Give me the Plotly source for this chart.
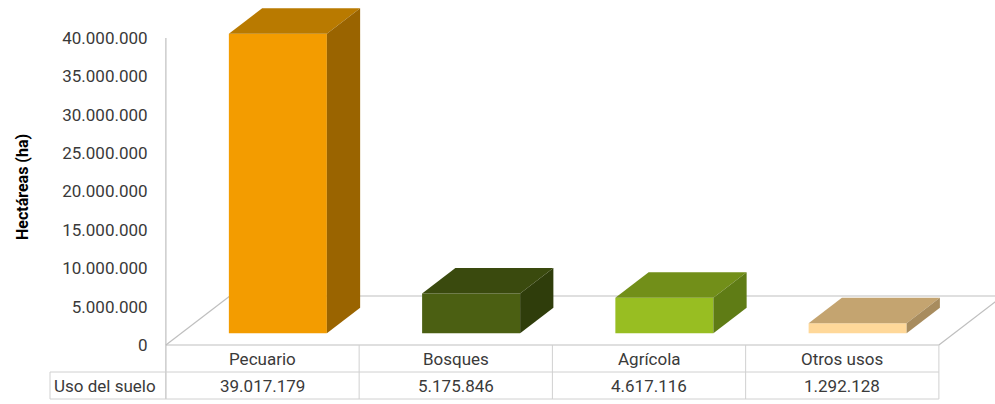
import plotly.graph_objects as go

# ---------------- data ----------------
categories = ["Pecuario", "Bosques", "Agrícola", "Otros usos"]
values = [39017179, 5175846, 4617116, 1292128]
row_label = "Uso del suelo"
y_title = "Hectáreas (ha)"
y_ticks = [0, 5000000, 10000000, 15000000, 20000000, 25000000, 30000000, 35000000, 40000000]

front_colors = ["#F39C00", "#4B5F12", "#98BE22", "#FFD899"]
top_colors = ["#B97A00", "#3A4A0E", "#728F19", "#C4A470"]
side_colors = ["#9A6400", "#2F3D0B", "#5F7C15", "#A88C5E"]

# ---------------- layout geometry (pixels) ----------------
W, H = 995, 404
X0_PX = 262.5        # centre of first category column
COL_PX = 193.25      # width of one category column
Y0_PX = 345.0        # pixel row of value 0
PX_PER_VAL = 307.0 / 40000000  # pixels per hectare
FLOOR_DX_PX, FLOOR_DY_PX = 64.0, 49.0
BAR_FRONT, BAR_BACK = 0.24, 0.76
BAR_W = 98.0 / COL_PX

def xval(px):
    return (px - X0_PX) / COL_PX

def yval(py):
    return (Y0_PX - py) / PX_PER_VAL

DX = FLOOR_DX_PX / COL_PX
DY = FLOOR_DY_PX / PX_PER_VAL
n = len(categories)
left, right = -0.5, n - 0.5

fig = go.Figure()

# front faces as bars
xs = [i + BAR_FRONT * DX for i in range(n)]
base = BAR_FRONT * DY
fig.add_trace(go.Bar(
    x=xs, y=values, base=[base] * n, width=BAR_W,
    marker=dict(color=front_colors, line=dict(width=0)),
    hoverinfo="skip", showlegend=False,
))

# top and side faces
ddx = (BAR_BACK - BAR_FRONT) * DX
ddy = (BAR_BACK - BAR_FRONT) * DY
hw = BAR_W / 2
for i, v in enumerate(values):
    c = xs[i]
    t = base + v
    fig.add_trace(go.Scatter(
        x=[c - hw, c + hw, c + hw + ddx, c - hw + ddx, c - hw],
        y=[t, t, t + ddy, t + ddy, t],
        fill="toself", fillcolor=top_colors[i], mode="lines",
        line=dict(width=0, color=top_colors[i]), hoverinfo="skip", showlegend=False,
    ))
    fig.add_trace(go.Scatter(
        x=[c + hw, c + hw, c + hw + ddx, c + hw + ddx, c + hw],
        y=[base, t, t + ddy, base + ddy, base],
        fill="toself", fillcolor=side_colors[i], mode="lines",
        line=dict(width=0, color=side_colors[i]), hoverinfo="skip", showlegend=False,
    ))

# floor / axis / table lines (below traces)
grey = "#BFBFBF"
tgrey = "#D0D0D0"
shapes = []
def seg(x0, y0, x1, y1, color=grey, w=1.2):
    shapes.append(dict(type="line", xref="x", yref="y", x0=x0, y0=y0, x1=x1, y1=y1,
                       line=dict(color=color, width=w), layer="below"))

# floor
seg(left, 0, right, 0)
seg(left, 0, left + DX, DY)
seg(right, 0, right + DX, DY)
seg(left + DX, DY, right + DX, DY)
# vertical axis line (down through table)
seg(left, y_ticks[-1], left, yval(399))
# table
row1_bot = yval(372)
row2_bot = yval(399)
hdr_left = xval(50)
seg(hdr_left, row1_bot, right, row1_bot, tgrey, 1)
seg(hdr_left, row2_bot, right, row2_bot, tgrey, 1)
seg(hdr_left, row1_bot, hdr_left, row2_bot, tgrey, 1)
for k in range(1, n + 1):
    seg(left + k, 0, left + k, row2_bot, tgrey, 1)

font_fam = "Roboto"
txt_col = "#3A3A3A"
fs = 17
annotations = []
for i, (cat, v) in enumerate(zip(categories, values)):
    annotations.append(dict(x=i, y=yval(358.5), xref="x", yref="y", text=cat,
                            showarrow=False, font=dict(size=fs, color=txt_col)))
    annotations.append(dict(x=i, y=yval(386), xref="x", yref="y",
                            text=f"{v:,}".replace(",", "."),
                            showarrow=False, font=dict(size=fs, color=txt_col)))
annotations.append(dict(x=xval(52), y=yval(386), xref="x", yref="y", text=row_label,
                        xanchor="left", showarrow=False, font=dict(size=fs, color=txt_col)))
annotations.append(dict(x=22 / W, y=1 - 187 / H, xref="paper", yref="paper", text=f"<b>{y_title}</b>",
                        xanchor="center", yanchor="middle",
                        textangle=-90, showarrow=False, font=dict(size=16, color="#000000")))

fig.update_layout(
    width=W, height=H, autosize=False,
    margin=dict(l=0, r=0, t=0, b=0, pad=0),
    paper_bgcolor="white", plot_bgcolor="white",
    separators=",.",
    font=dict(family=font_fam, color=txt_col),
    xaxis=dict(range=[xval(0), xval(W)], visible=False, fixedrange=True),
    yaxis=dict(range=[yval(H), yval(0)], anchor="free", position=165 / W, side="left",
               tickvals=y_ticks, tickformat=",d", showgrid=False, zeroline=False,
               showline=False, ticks="outside", ticklen=14, tickcolor="rgba(0,0,0,0)",
               tickfont=dict(size=fs, color=txt_col, family=font_fam), fixedrange=True),
    shapes=shapes, annotations=annotations, showlegend=False,
)

fig.write_html("out.html")
